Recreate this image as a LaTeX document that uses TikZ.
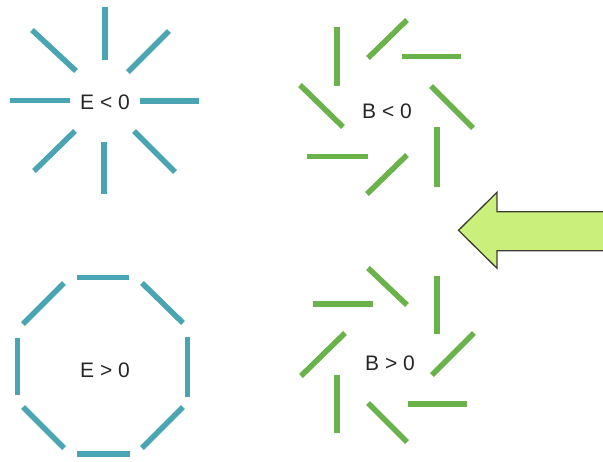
\documentclass[tikz,border=0pt]{standalone}
\usepackage{fontspec}
\setmainfont{Liberation Sans}
\definecolor{teal}{HTML}{4AA5B3}
\definecolor{leaf}{HTML}{6AB24A}
\definecolor{arrowfill}{HTML}{CBEF7B}
\definecolor{arrowline}{HTML}{3E3E30}
\begin{document}
\begin{tikzpicture}[x=1pt,y=-1pt,
  eline/.style={draw=teal,line width=5.5pt},
  bline/.style={draw=leaf,line width=5.5pt},
  lbl/.style={font=\fontsize{21}{24}\selectfont,text=black!85,inner sep=0pt}]
\useasboundingbox (0,0) rectangle (603,461);
% E < 0
\draw[eline] (105,7) -- (105,60);
\draw[eline] (104,142) -- (104,194);
\draw[eline] (10,100.5) -- (70,100.5);
\draw[eline] (140,101) -- (199,101);
\draw[eline] (32,30) -- (76,71);
\draw[eline] (169,31) -- (128,72);
\draw[eline] (75,131) -- (34,171);
\draw[eline] (134,131) -- (175,172);
\node[lbl] (eneg) at (105,102) {E < 0};
% B < 0
\draw[bline] (337,27) -- (337,86);
\draw[bline] (407,20) -- (368,58);
\draw[bline] (402,56.7) -- (461,56.7);
\draw[bline] (431,86) -- (473,128);
\draw[bline] (437,127) -- (437,187);
\draw[bline] (407,155) -- (367,194);
\draw[bline] (307,156.7) -- (368,156.7);
\draw[bline] (300,85) -- (343,127);
\node[lbl] (bneg) at (387,111) {B < 0};
% E > 0
\draw[eline] (77,277.3) -- (129,277.3);
\draw[eline] (142,283) -- (183,323);
\draw[eline] (187.3,337) -- (187.3,397);
\draw[eline] (183,407) -- (142,448);
\draw[eline] (77,454) -- (130,454);
\draw[eline] (23,407) -- (64,448);
\draw[eline] (17.7,338) -- (17.7,395);
\draw[eline] (23,324) -- (64,283);
\node[lbl] (epos) at (105,370) {E > 0};
% B > 0
\draw[bline] (368,268) -- (407,305);
\draw[bline] (437,276) -- (437,334);
\draw[bline] (313,304) -- (373,304);
\draw[bline] (474,333) -- (432,375);
\draw[bline] (345,333) -- (301,376);
\draw[bline] (337,375) -- (337,433);
\draw[bline] (408,404) -- (467,404);
\draw[bline] (368,403) -- (407,442);
\node[lbl] (bpos) at (390,363) {B > 0};
% arrow
\draw[fill=arrowfill,draw=arrowline,line width=1.3pt,line join=miter]
  (608,211.7) -- (497,211.7) -- (497,192.3) -- (458.5,230.3) -- (497,268.3) -- (497,250.7) -- (608,250.7) -- cycle;
\end{tikzpicture}
\end{document}
